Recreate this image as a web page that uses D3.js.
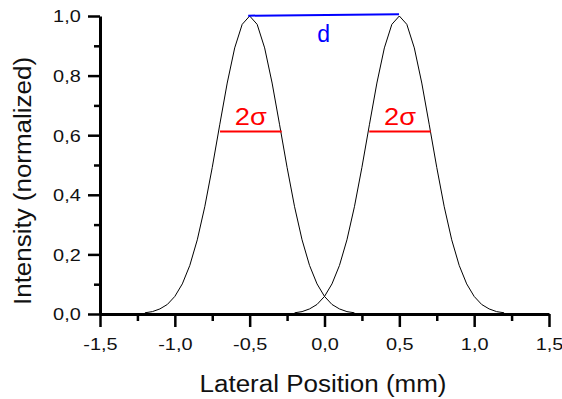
<!DOCTYPE html>
<html>
<head>
<meta charset="utf-8">
<script src="https://cdn.jsdelivr.net/npm/d3@7/dist/d3.min.js"></script>
<style>
  html, body { margin: 0; padding: 0; background: #fff; }
  svg { display: block; font-family: Arial, "Liberation Sans", sans-serif; }
</style>
</head>
<body>
<div id="chart"></div>
<script>
// peak profiles (lateral position in mm, normalized intensity)
const leftX = [-1.2, -1.15, -1.1, -1.05, -1.0, -0.95, -0.9, -0.85, -0.8, -0.75, -0.7, -0.65, -0.6, -0.55, -0.5,
  -0.45, -0.4, -0.35, -0.3, -0.25, -0.2, -0.15, -0.1, -0.05, 0.0, 0.05, 0.1, 0.15, 0.2];
const leftY = [0.004, 0.008, 0.017, 0.032, 0.059, 0.101, 0.163, 0.249, 0.360, 0.492, 0.635, 0.775, 0.893, 0.972, 1.000,
  0.972, 0.893, 0.775, 0.635, 0.492, 0.360, 0.249, 0.163, 0.101, 0.059, 0.032, 0.017, 0.008, 0.004];
const rightX = [-0.2, -0.15, -0.1, -0.05, 0.0, 0.05, 0.1, 0.15, 0.2, 0.25, 0.3, 0.35, 0.4, 0.45, 0.5,
  0.55, 0.6, 0.65, 0.7, 0.75, 0.8, 0.85, 0.9, 0.95, 1.0, 1.05, 1.1, 1.15, 1.2];
const rightY = [0.004, 0.008, 0.017, 0.032, 0.059, 0.101, 0.163, 0.249, 0.360, 0.492, 0.635, 0.775, 0.893, 0.972, 1.000,
  0.972, 0.893, 0.775, 0.635, 0.492, 0.360, 0.249, 0.163, 0.101, 0.059, 0.032, 0.017, 0.008, 0.004];

// annotation marks: peak distance d and the 2 sigma widths
const dLine = [[-0.51, 1.001], [0.498, 1.006]];
const sigmaLines = [
  [[-0.698, 0.612], [-0.286, 0.612]],
  [[0.299, 0.612], [0.71, 0.612]]
];

const xTicks = [-1.5, -1.0, -0.5, 0.0, 0.5, 1.0, 1.5];
const xMinor = [-1.25, -0.75, -0.25, 0.25, 0.75, 1.25];
const yTicks = [0.0, 0.2, 0.4, 0.6, 0.8, 1.0];
const yMinor = [0.1, 0.3, 0.5, 0.7, 0.9];

const width = 562, height = 399;
const svg = d3.select('#chart').append('svg').attr('width', width).attr('height', height);

const x = d3.scaleLinear().domain([-1.5, 1.5]).range([100, 549]);
const y = d3.scaleLinear().domain([0, 1]).range([314, 16]);
const fmt = d => d.toFixed(1).replace('.', ',');

// curves
const line = d3.line().x(d => x(d[0])).y(d => y(d[1]));
[[leftX, leftY], [rightX, rightY]].forEach(([xs, ys]) => {
  svg.append('path')
    .datum(xs.map((v, i) => [v, ys[i]]))
    .attr('d', line)
    .attr('fill', 'none')
    .attr('stroke', '#000')
    .attr('stroke-width', 1);
});

// minor ticks
svg.append('g').attr('transform', 'translate(0,314)')
  .call(d3.axisBottom(x).tickValues(xMinor).tickSize(7).tickFormat(''))
  .call(g => g.select('.domain').remove())
  .selectAll('line').attr('stroke-width', 2.5).attr('stroke', '#000');
svg.append('g').attr('transform', 'translate(100,0)')
  .call(d3.axisLeft(y).tickValues(yMinor).tickSize(6).tickFormat(''))
  .call(g => g.select('.domain').remove())
  .selectAll('line').attr('stroke-width', 2.5).attr('stroke', '#000');

// x axis
const xAxis = svg.append('g').attr('transform', 'translate(0,314)')
  .call(d3.axisBottom(x).tickValues(xTicks).tickSize(13).tickSizeOuter(0).tickFormat(fmt));
xAxis.select('.domain').attr('stroke-width', 3).attr('stroke', '#000');
xAxis.selectAll('.tick line').attr('stroke-width', 2.5).attr('stroke', '#000');
xAxis.selectAll('.tick text')
  .attr('fill', '#111').attr('font-size', 17).attr('font-family', 'Arial, "Liberation Sans", sans-serif')
  .attr('dy', null).attr('y', 36)
  .attr('transform', 'scale(1.17,1)');

// y axis
const yAxis = svg.append('g').attr('transform', 'translate(100,0)')
  .call(d3.axisLeft(y).tickValues(yTicks).tickSize(12).tickSizeOuter(0).tickFormat(fmt));
yAxis.select('.domain').attr('stroke-width', 3).attr('stroke', '#000');
yAxis.selectAll('.tick line').attr('stroke-width', 2.5).attr('stroke', '#000');
yAxis.selectAll('.tick text')
  .attr('fill', '#111').attr('font-size', 17).attr('font-family', 'Arial, "Liberation Sans", sans-serif')
  .attr('dy', '0.35em').attr('x', -19.3 / 1.17)
  .attr('transform', 'scale(1.17,1)');

// axis titles
svg.append('text')
  .attr('x', 323).attr('y', 391.5)
  .attr('text-anchor', 'middle').attr('font-size', 23).attr('fill', '#111')
  .attr('textLength', 247).attr('lengthAdjust', 'spacingAndGlyphs')
  .text('Lateral Position (mm)');
svg.append('text')
  .attr('transform', 'translate(31,181) rotate(-90)')
  .attr('text-anchor', 'middle').attr('font-size', 23).attr('fill', '#111')
  .attr('textLength', 248).attr('lengthAdjust', 'spacingAndGlyphs')
  .text('Intensity (normalized)');

// annotations
svg.append('line')
  .attr('x1', x(dLine[0][0])).attr('y1', y(dLine[0][1]))
  .attr('x2', x(dLine[1][0])).attr('y2', y(dLine[1][1]))
  .attr('stroke', '#0000ff').attr('stroke-width', 2);
svg.append('text')
  .attr('x', x((dLine[0][0] + dLine[1][0]) / 2)).attr('y', 41.7)
  .attr('text-anchor', 'middle').attr('font-size', 23).attr('fill', '#0000ff')
  .text('d');

sigmaLines.forEach(s => {
  svg.append('line')
    .attr('x1', x(s[0][0])).attr('y1', y(s[0][1]))
    .attr('x2', x(s[1][0])).attr('y2', y(s[1][1]))
    .attr('stroke', '#ff0000').attr('stroke-width', 2);
  svg.append('text')
    .attr('x', x((s[0][0] + s[1][0]) / 2)).attr('y', 125)
    .attr('text-anchor', 'middle').attr('font-size', 23).attr('fill', '#ff0000')
    .attr('textLength', 32).attr('lengthAdjust', 'spacingAndGlyphs')
    .text('2σ');
});
</script>
</body>
</html>
